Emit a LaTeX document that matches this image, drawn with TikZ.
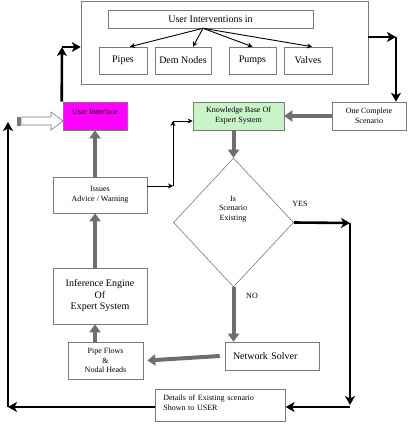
\documentclass[tikz,border=0pt]{standalone}
\usepackage{fontspec}
\setmainfont{Liberation Serif}
\usetikzlibrary{arrows.meta,shapes.geometric}

\definecolor{uimagenta}{HTML}{FF00FF}
\definecolor{kbgreen}{HTML}{C8F5C8}
\definecolor{edgegray}{HTML}{7A7A7A}
\definecolor{blockgray}{HTML}{6E6E6E}

\tikzset{
  box/.style={draw=edgegray, line width=0.6pt, fill=white, inner sep=2pt,
    align=center, font=\fontsize{8}{10}\selectfont},
  bigtxt/.style={font=\fontsize{10}{11.5}\selectfont},
  smalltxt/.style={font=\fontsize{8}{9.5}\selectfont, align=center},
  decision/.style={draw=edgegray, line width=0.6pt, diamond, inner sep=0pt,
    minimum width=120pt, minimum height=129pt},
  bigarrow/.style={line width=2.6pt, -{Stealth[length=9pt,width=10pt,inset=2.5pt]}},
  grayarrow/.style={draw=blockgray, line width=4pt, -{Triangle[length=8pt,width=11pt]}},
  thinarrow/.style={line width=0.9pt, -{Stealth[length=5pt,width=5pt]}},
}

\begin{document}
\begin{tikzpicture}[x=1pt,y=-1pt]
  \useasboundingbox (0,0) rectangle (407,425);

  % top block: user interventions
  \node[box, minimum width=287pt, minimum height=83pt] (outer) at (224.5,42.5) {};
  \node[box, bigtxt, minimum width=205pt, minimum height=18pt] (uii) at (210.5,19) {User Interventions in};
  \node[box, bigtxt, minimum width=48pt, minimum height=27pt] (pipes) at (123,60.5) {Pipes};
  \node[box, bigtxt, minimum width=56pt, minimum height=27pt] (demnodes) at (183,60.5) {Dem Nodes};
  \node[box, bigtxt, minimum width=47pt, minimum height=27pt] (pumps) at (252.5,60.5) {Pumps};
  \node[box, bigtxt, minimum width=48pt, minimum height=27pt] (valves) at (308,60.5) {Valves};

  \draw[thinarrow] ([xshift=-7.5pt]uii.south) -- ([xshift=7pt]pipes.north);
  \draw[thinarrow] ([xshift=-7.5pt]uii.south) -- ([xshift=10pt]demnodes.north);
  \draw[thinarrow] ([xshift=-7.5pt]uii.south) -- (pumps.north);
  \draw[thinarrow] ([xshift=-7.5pt]uii.south) -- ([xshift=4pt]valves.north);

  % second row
  \node[box, fill=uimagenta, minimum width=64pt, minimum height=28pt, text depth=8pt] (ui) at (95,116) {User Interface};
  \node[box, fill=kbgreen, minimum width=91pt, minimum height=28pt] (kb) at (238.5,116) {Knowledge Base Of\\Expert System};
  \node[box, minimum width=74pt, minimum height=28pt] (ocs) at (369,116) {One Complete\\Scenario};

  % left column
  \node[box, minimum width=94pt, minimum height=36pt] (issues) at (100,195) {Issues\\Advice / Warning};
  \node[box, bigtxt, minimum width=94pt, minimum height=56pt] (ie) at (100,296) {Inference Engine\\Of\\Expert System};
  \node[box, font=\fontsize{8}{9.5}\selectfont, minimum width=75pt, minimum height=37pt] (pf) at (105.5,360.5) {Pipe Flows\\\&\\Nodal Heads};

  % decision and solver
  \node[decision] (isx) at (233.5,222.5) {};
  \node[smalltxt] (isxtext) at (233,209) {Is\\Scenario\\Existing};
  \node[smalltxt] (yes) at (300,204) {YES};
  \node[smalltxt] (no) at (252,296) {NO};
  \node[box, bigtxt, minimum height=28pt, text width=78pt, inner xsep=8pt, align=left] (ns) at (272,356) {Network Solver};
  \node[box, anchor=north west, text width=114pt, inner xsep=8pt, inner ysep=6pt,
    align=left, text depth=14pt] (details) at (155,389) {Details of Existing scenario\\Shown to USER};

  % corner points
  \coordinate (tl) at (62,47);
  \coordinate (tr) at (396,37);
  \coordinate (c1) at (173,186);
  \coordinate (c2) at (173,121);
  \coordinate (y1) at (350,223);
  \coordinate (y2) at (350,405);
  \coordinate (y3) at (350,407);
  \coordinate (l1) at (8,407);
  \coordinate (l2) at (8,122);

  % hollow input arrow
  \draw[draw=edgegray, fill=white, line width=0.6pt] (17,117) rectangle (18.3,125);
  \draw[draw=edgegray, fill=white, line width=0.6pt] (19.4,117) rectangle (20.7,125);
  \draw[draw=edgegray, fill=white, line width=0.6pt] (21.8,117) -- (51,117) -- (51,112) -- (63,121)
    -- (51,130) -- (51,125) -- (21.8,125) -- cycle;

  % black flow
  \draw[bigarrow] ([xshift=-1pt]ui.north west) -- (tl);
  \draw[bigarrow] (tl) -- (tl -| outer.west);
  \draw[bigarrow] (outer.east |- tr) -- (tr);
  \draw[bigarrow] (tr) -- (tr |- ocs.north);
  \draw[bigarrow] (isx.east) -- (y1);
  \draw[bigarrow] (y1) -- (y2);
  \draw[bigarrow] (y3) -- (y3 -| details.east);
  \draw[bigarrow] (l1 -| details.west) -- (l1);
  \draw[bigarrow] (l1) -- (l2);

  \draw[thinarrow] ([yshift=9pt]issues.east) -- (c1);
  \draw[thinarrow] (c1) -- (c2);
  \draw[thinarrow] (c2) -- (c2 -| kb.west);

  % gray flow
  \draw[grayarrow] (ocs.west) -- (kb.east);
  \draw[grayarrow] (isx.north |- kb.south) -- (isx.north);
  \draw[grayarrow] (isx.south) -- (isx.south |- ns.north);
  \draw[grayarrow] ([xshift=-5pt]ns.west) -- ([xshift=4pt]pf.east);
  \draw[grayarrow] (ui.south |- pf.north) -- (ui.south |- ie.south);
  \draw[grayarrow] (ui.south |- ie.north) -- (ui.south |- issues.south);
  \draw[grayarrow] (ui.south |- issues.north) -- (ui.south);
\end{tikzpicture}
\end{document}
